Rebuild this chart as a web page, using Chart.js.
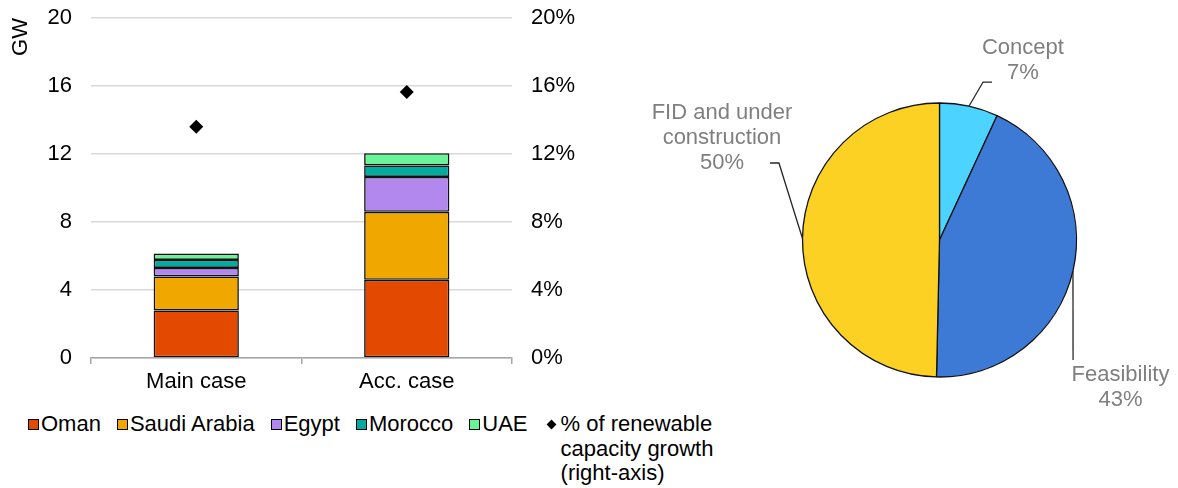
<!DOCTYPE html>
<html lang="en">
<head>
  <meta charset="UTF-8">
  <title>Hydrogen capacity chart</title>
  <script src="https://cdn.jsdelivr.net/npm/chart.js"></script>
  <style>
    body {
      margin: 0;
      background: #fff;
      font-family: "Liberation Sans", Arial, sans-serif;
    }
    #barBox {
      position: absolute;
      left: 0;
      top: 0;
      width: 600px;
      height: 400px;
    }
    #pieBox {
      position: absolute;
      left: 600px;
      top: 0;
      width: 578px;
      height: 488px;
    }
    #legend {
      position: absolute;
      left: 28px;
      top: 412px;
      display: flex;
      align-items: flex-start;
      gap: 16px;
      font-size: 22px;
      line-height: 24.5px;
      color: #000;
    }
    .item { display: flex; align-items: flex-start; }
    .swatch {
      width: 9px;
      height: 9px;
      border: 1px solid #000;
      margin: 7px 2px 0 0;
    }
    .diamond {
      width: 7px;
      height: 7px;
      background: #000;
      transform: rotate(45deg);
      margin: 9px 6px 0 4px;
    }
  </style>
</head>
<body>

<div id="barBox"><canvas id="barChart"></canvas></div>
<div id="legend"></div>
<div id="pieBox"><canvas id="pieChart"></canvas></div>

<script>
  // bar chart data (GW)
  const categories = ['Main case', 'Acc. case'];
  const omanGW = [2.8, 4.6];
  const saudiGW = [2.0, 4.0];
  const egyptGW = [0.5, 2.05];
  const moroccoGW = [0.47, 0.68];
  const uaeGW = [0.37, 0.72];
  const shareOfGrowth = [13.6, 15.65]; // % of renewable capacity growth, right axis

  // pie chart data (%)
  const stageLabels = ['Concept', 'Feasibility', ['FID and under', 'construction']];
  const stageShares = [6.9, 43.45, 49.65];

  const font = { family: '"Liberation Sans", Arial, sans-serif', size: 22 };
  const ink = '#000';

  const barColors = ['#e34a00', '#f0a800', '#b388ee', '#00ab9f', '#68f596'];
  const barNames = ['Oman', 'Saudi Arabia', 'Egypt', 'Morocco', 'UAE'];
  const barSeries = [omanGW, saudiGW, egyptGW, moroccoGW, uaeGW];

  const datasets = barSeries.map((values, i) => ({
    type: 'bar',
    label: barNames[i],
    data: values,
    backgroundColor: barColors[i],
    borderColor: '#111',
    borderWidth: 1.6,
    borderSkipped: false,
    barPercentage: 0.405,
    categoryPercentage: 1,
    yAxisID: 'y'
  }));
  datasets.push({
    type: 'line',
    label: ['% of renewable', 'capacity growth', '(right-axis)'],
    data: shareOfGrowth,
    showLine: false,
    pointStyle: 'rectRot',
    pointRadius: 7,
    backgroundColor: '#000',
    borderColor: '#000',
    borderWidth: 0,
    yAxisID: 'y1'
  });

  // keep the tick label padding from pushing the plot area down
  function fixVertical(width) {
    return s => {
      s.width = width;
      s.paddingTop = 0;
      s.paddingBottom = 0;
    };
  }

  const barChart = new Chart(document.getElementById('barChart'), {
    data: { labels: categories, datasets: datasets },
    options: {
      responsive: true,
      maintainAspectRatio: false,
      animation: false,
      layout: { padding: { top: 18, right: 0, bottom: 0, left: 0 } },
      plugins: { legend: { display: false }, tooltip: { enabled: false } },
      scales: {
        x: {
          stacked: true,
          grid: { offset: true, drawOnChartArea: false, tickLength: 6, color: '#a6a6a6', lineWidth: 1.5 },
          border: { color: '#a6a6a6', width: 1.5 },
          ticks: { color: ink, font: font, padding: 5 },
          afterFit: s => { s.height = 42; }
        },
        y: {
          stacked: true,
          min: 0,
          max: 20,
          ticks: { stepSize: 4, padding: 19, color: ink, font: font },
          grid: { color: '#d9d9d9', lineWidth: 1.5, drawTicks: false },
          border: { display: false },
          title: { display: true, text: 'GW', align: 'end', color: ink, font: font, padding: { top: 8, bottom: 0 } },
          afterFit: fixVertical(91)
        },
        y1: {
          position: 'right',
          min: 0,
          max: 20,
          ticks: { stepSize: 4, padding: 19, color: ink, font: font, callback: v => v + '%' },
          grid: { display: false, drawTicks: false },
          border: { display: false },
          afterFit: fixVertical(88)
        }
      }
    }
  });

  // html legend built from the datasets
  const legendEl = document.getElementById('legend');
  barChart.data.datasets.forEach(ds => {
    const item = document.createElement('div');
    item.className = 'item';
    const mark = document.createElement('div');
    if (ds.type === 'bar') {
      mark.className = 'swatch';
      mark.style.background = ds.backgroundColor;
    } else {
      mark.className = 'diamond';
    }
    const text = document.createElement('div');
    text.innerHTML = [].concat(ds.label).join('<br>');
    item.appendChild(mark);
    item.appendChild(text);
    legendEl.appendChild(item);
  });

  // callout placement in units of the pie radius, from the pie centre
  const calloutPlacement = [
    { elbow: [0.318, -1.153], end: [0.383, -1.153], text: [0.609, -1.401] },
    { elbow: [0.975, 0.876], end: [0.975, 0.876], text: [1.321, 0.985] },
    { elbow: [-1.172, -0.562], end: [-1.237, -0.562], text: [-1.588, -0.927] }
  ];

  const calloutPlugin = {
    id: 'callouts',
    afterDatasetsDraw(chart) {
      const ctx = chart.ctx;
      const arcs = chart.getDatasetMeta(0).data;
      ctx.save();
      ctx.strokeStyle = '#262626';
      ctx.lineWidth = 1.3;
      ctx.fillStyle = '#7f7f7f';
      ctx.font = '22px "Liberation Sans", Arial, sans-serif';
      ctx.textAlign = 'center';
      ctx.textBaseline = 'middle';
      arcs.forEach((arc, i) => {
        const p = calloutPlacement[i];
        const { x, y, outerRadius: r, startAngle, endAngle } =
          arc.getProps(['x', 'y', 'outerRadius', 'startAngle', 'endAngle'], true);
        const mid = (startAngle + endAngle) / 2;
        ctx.beginPath();
        ctx.moveTo(x + Math.cos(mid) * r, y + Math.sin(mid) * r);
        ctx.lineTo(x + p.elbow[0] * r, y + p.elbow[1] * r);
        ctx.lineTo(x + p.end[0] * r, y + p.end[1] * r);
        ctx.stroke();
        const lines = [].concat(stageLabels[i], Math.round(stageShares[i]) + '%');
        lines.forEach((t, k) => {
          ctx.fillText(t, x + p.text[0] * r, y + p.text[1] * r + k * 25);
        });
      });
      ctx.restore();
    }
  };

  new Chart(document.getElementById('pieChart'), {
    type: 'pie',
    data: {
      labels: stageLabels,
      datasets: [{
        data: stageShares,
        backgroundColor: ['#4dd3ff', '#3d7ad5', '#fdd124'],
        borderColor: '#111',
        borderWidth: 1.3,
        radius: 137
      }]
    },
    options: {
      responsive: true,
      maintainAspectRatio: false,
      animation: false,
      layout: { padding: { top: 40, bottom: 48, left: 150, right: 49 } },
      plugins: { legend: { display: false }, tooltip: { enabled: false } }
    },
    plugins: [calloutPlugin]
  });
</script>

</body>
</html>
